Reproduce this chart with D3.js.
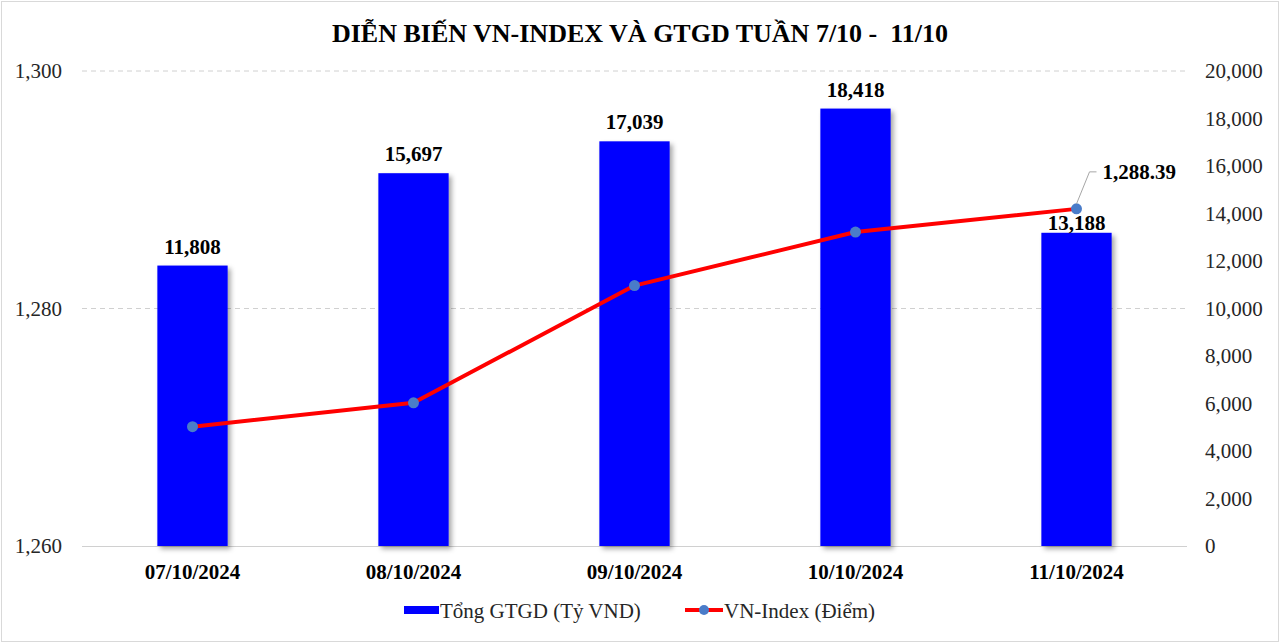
<!DOCTYPE html>
<html><head><meta charset="utf-8">
<script src="https://cdn.jsdelivr.net/npm/d3@7"></script>
<style>body{margin:0;background:#fff}svg{display:block}text{white-space:pre}</style>
</head><body>
<svg id="c" width="1280" height="643"></svg>
<script>
const categories = ["07/10/2024","08/10/2024","09/10/2024","10/10/2024","11/10/2024"];
const volume = [11808, 15697, 17039, 18418, 13188];
const vnIndex = [1270.05, 1272.06, 1281.93, 1286.44, 1288.39];
const leftTicks = [1260, 1280, 1300];
const rightTicks = [0,2000,4000,6000,8000,10000,12000,14000,16000,18000,20000];
const title = "DIỄN BIẾN VN-INDEX VÀ GTGD TUẦN 7/10 -  11/10";
const seriesNames = ["Tổng GTGD (Tỷ VND)", "VN-Index (Điểm)"];

const svg = d3.select("#c");
const W = 1280, H = 643;
const m = {l:82, r:1187, t:71, b:546};
const font = "'Liberation Serif', 'Times New Roman', serif";

svg.append("rect").attr("x",1.5).attr("y",1.5).attr("width",W-3).attr("height",H-3)
  .attr("fill","#fff").attr("stroke","#d9d9d9").attr("stroke-width",1);

const defs = svg.append("defs");
const f = defs.append("filter").attr("id","sh").attr("x","-20%").attr("y","-20%").attr("width","150%").attr("height","150%");
f.append("feDropShadow").attr("dx",3).attr("dy",3).attr("stdDeviation",2.5)
  .attr("flood-color","#000").attr("flood-opacity",0.35);

const x = d3.scaleBand().domain(categories).range([m.l, m.r]).padding(0);
const yL = d3.scaleLinear().domain([1260,1300]).range([m.b, m.t]);
const yR = d3.scaleLinear().domain([0,20000]).range([m.b, m.t]);

// gridlines
svg.append("g").selectAll("line").data(leftTicks.filter(d=>d>1260)).join("line")
  .attr("x1",m.l).attr("x2",m.r).attr("y1",d=>yL(d)).attr("y2",d=>yL(d))
  .attr("stroke","#d0d0d0").attr("stroke-width",1).attr("stroke-dasharray","5,4");
svg.append("line").attr("x1",m.l).attr("x2",m.r).attr("y1",m.b+0.5).attr("y2",m.b+0.5)
  .attr("stroke","#d0d0d0").attr("stroke-width",1);

// left axis
const axL = svg.append("g").attr("transform",`translate(${m.l-20},0)`)
  .call(d3.axisLeft(yL).tickValues(leftTicks).tickFormat(d3.format(",")).tickSize(0).tickPadding(0));
axL.select(".domain").remove();
axL.selectAll("text").style("font-family",font).style("font-size","21px").attr("fill","#262626");

// right axis
const axR = svg.append("g").attr("transform",`translate(${m.r+18},0)`)
  .call(d3.axisRight(yR).tickValues(rightTicks).tickFormat(d3.format(",")).tickSize(0).tickPadding(0));
axR.select(".domain").remove();
axR.selectAll("text").style("font-family",font).style("font-size","21px").attr("fill","#262626");

// bars
const bw = x.bandwidth()*0.318;
svg.append("g").selectAll("rect").data(volume).join("rect")
  .attr("x",(d,i)=>x(categories[i])+x.bandwidth()/2-bw/2)
  .attr("y",d=>yR(d)).attr("width",bw).attr("height",d=>m.b-yR(d))
  .attr("fill","#0000ff").attr("filter","url(#sh)");

// bar labels
svg.append("g").selectAll("text").data(volume).join("text")
  .attr("x",(d,i)=>x(categories[i])+x.bandwidth()/2)
  .attr("y",(d,i)=>yR(d)-(i===4?3:12))
  .attr("text-anchor","middle").style("font-family",font).attr("font-weight","bold")
  .style("font-size","21px").attr("fill","#000").text(d3.format(","));

// line
const cx = (d,i)=>x(categories[i])+x.bandwidth()/2;
svg.append("path").datum(vnIndex)
  .attr("d", d3.line().x(cx).y(d=>yL(d)))
  .attr("fill","none").attr("stroke","#ff0000").attr("stroke-width",4).attr("stroke-linejoin","round");
svg.append("g").selectAll("circle").data(vnIndex).join("circle")
  .attr("cx",cx).attr("cy",d=>yL(d)).attr("r",5.5).attr("fill","#4a7cc9");

// last point label with leader
const li = vnIndex.length-1;
const px = cx(vnIndex[li],li), py = yL(vnIndex[li]);
svg.append("path").attr("d",`M${px},${py-5}L${px+13},${py-37}L${px+20},${py-37}`)
  .attr("fill","none").attr("stroke","#a6a6a6").attr("stroke-width",1);
svg.append("text").attr("x",px+26).attr("y",py-30).style("font-family",font)
  .attr("font-weight","bold").style("font-size","21px").attr("fill","#000")
  .text(d3.format(",.2f")(vnIndex[li]));

// category labels
svg.append("g").selectAll("text").data(categories).join("text")
  .attr("x",d=>x(d)+x.bandwidth()/2).attr("y",579)
  .attr("text-anchor","middle").style("font-family",font).attr("font-weight","bold")
  .style("font-size","21px").attr("fill","#000").text(d=>d);

// title
svg.append("text").attr("x",640).attr("y",42).attr("text-anchor","middle")
  .style("font-family",font).attr("font-weight","bold").style("font-size","26px").attr("fill","#000")
  .text(title);

// legend
const lg = svg.append("g");
lg.append("rect").attr("x",404).attr("y",606).attr("width",35).attr("height",8).attr("fill","#0000ff");
lg.append("text").attr("x",440).attr("y",618).style("font-family",font).style("font-size","21px").attr("fill","#262626").text(seriesNames[0]);
lg.append("line").attr("x1",685).attr("x2",723).attr("y1",610).attr("y2",610).attr("stroke","#ff0000").attr("stroke-width",4);
lg.append("circle").attr("cx",704).attr("cy",610).attr("r",5).attr("fill","#4a7cc9");
lg.append("text").attr("x",724).attr("y",618).style("font-family",font).style("font-size","21px").attr("fill","#262626").text(seriesNames[1]);
</script>
</body></html>
